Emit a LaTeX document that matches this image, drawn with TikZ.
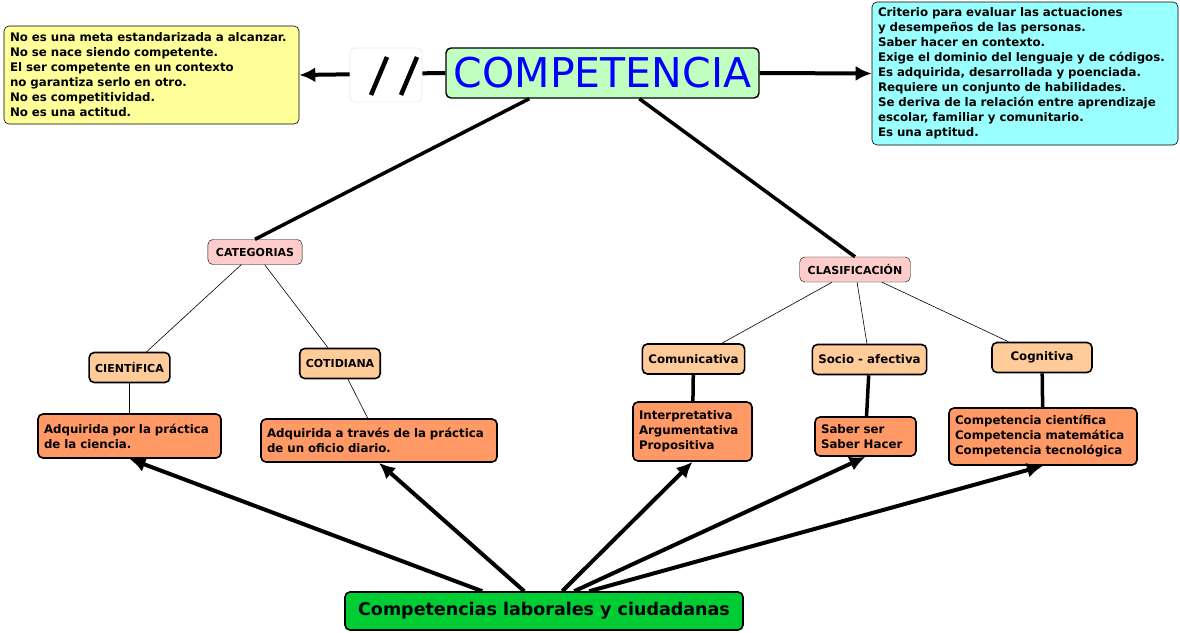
\documentclass[tikz,border=0pt]{standalone}
\usepackage{fontspec}
\setmainfont{DejaVu Sans}
\usetikzlibrary{arrows.meta}
\definecolor{notesyellow}{HTML}{FFFF99}
\definecolor{traitscyan}{HTML}{99FFFF}
\definecolor{compgreen}{HTML}{C0FFC0}
\definecolor{catpink}{HTML}{FFCCCC}
\definecolor{kindpeach}{HTML}{FFCC99}
\definecolor{detailorange}{HTML}{FF9966}
\definecolor{laborgreen}{HTML}{00CC33}
\begin{document}
\begin{tikzpicture}[x=1pt, y=-1pt,
    box/.style={draw, rounded corners=5pt, font=\bfseries\fontsize{11.8}{15}\selectfont, align=left, inner xsep=6pt, inner ysep=4pt},
    cat/.style={draw, rounded corners=5pt, fill=catpink, font=\bfseries\fontsize{11}{13}\selectfont, minimum height=25pt, inner xsep=8pt},
    kind/.style={box, fill=kindpeach, line width=1.6pt, minimum height=30pt, align=center},
    detail/.style={box, fill=detailorange, line width=1.6pt},
    thin/.style={draw, line width=0.6pt},
    heavy/.style={draw, line width=3.5pt},
    arr/.style={-{Latex[length=16pt,width=15pt]}, line width=4pt}]
    \useasboundingbox (0,0) rectangle (1180,632);
    % Top row
    \node[box, fill=notesyellow, line width=0.6pt, text width=283pt, minimum height=98pt] (notes) at (151.5,75) {No es una meta estandarizada a alcanzar.\\No se nace siendo competente.\\El ser competente en un contexto\\no garantiza serlo en otro.\\No es competitividad.\\No es una actitud.};
    \node[draw, rounded corners=5pt, line width=1.4pt, fill=compgreen, minimum width=313pt, minimum height=50pt, text=blue, font=\fontsize{41}{44}\selectfont, inner sep=0pt] (comp) at (602.5,73) {COMPETENCIA};
    \node[box, fill=traitscyan, line width=0.6pt, text width=294pt, minimum height=143pt] (traits) at (1025,73.5) {Criterio para evaluar las actuaciones\\y desempeños de las personas.\\Saber hacer en contexto.\\Exige el dominio del lenguaje y de códigos.\\Es adquirida, desarrollada y poenciada.\\Requiere un conjunto de habilidades.\\Se deriva de la relación entre aprendizaje\\escolar, familiar y comunitario.\\Es una aptitud.};
    \draw[arr] (comp.west) -- (notes.east);
    \draw[arr] (comp.east) -- (traits.west);
    \node[draw=gray!15, rounded corners=5pt, thick, fill=white, minimum width=72pt, minimum height=54pt, inner sep=0pt] (neg) at (386,75) {};
    \draw[line width=4.5pt] (neg.center) ++(-15,20) -- ++(16,-38) ++(14,38) -- ++(16,-38);

    % Middle level
    \node[cat] (categ) at (255,252) {CATEGORIAS};
    \node[cat] (clasif) at (855,269.5) {CLASIFICACIÓN};
    \draw[heavy] (comp.south west) ++(84,0) -- (categ.north);
    \draw[heavy] (comp.south west) ++(194,0) -- (clasif.north);

    \node[kind, font=\bfseries\fontsize{11}{13}\selectfont] (cient) at (129.5,367.5) {CIENTÍFICA};
    \node[kind, font=\bfseries\fontsize{11}{13}\selectfont] (cotid) at (340,363.5) {COTIDIANA};
    \node[kind] (comun) at (693.5,359) {Comunicativa};
    \node[kind] (socio) at (869.5,359.5) {Socio - afectiva};
    \node[kind, minimum width=100pt] (cogni) at (1042,357.5) {Cognitiva};
    \draw[thin] (categ) -- (cient);
    \draw[thin] (categ) -- (cotid);
    \draw[thin] (clasif) -- (comun);
    \draw[thin] (clasif) -- (socio);
    \draw[thin] (clasif) -- (cogni);

    % Lower level
    \node[detail, text width=171pt, minimum height=44pt] (adqc) at (129.5,436) {Adquirida por la práctica\\de la ciencia.};
    \node[detail, text width=224pt, minimum height=43pt] (adqo) at (379,440.5) {Adquirida a través de la práctica\\de un oficio diario.};
    \node[detail, text width=107pt, minimum height=59pt] (argum) at (692.5,431.5) {Interpretativa\\Argumentativa\\Propositiva};
    \node[detail, text width=89pt, minimum height=39pt] (saber) at (865.5,436.5) {Saber ser\\Saber Hacer};
    \node[detail, text width=176pt, minimum height=57pt] (areas) at (1043,436.5) {Competencia científica\\Competencia matemática\\Competencia tecnológica};
    \draw[thin] (cient) -- (adqc);
    \draw[thin] (cotid) -- (adqo);
    \draw[heavy] (comun) -- (argum);
    \draw[heavy] (socio) -- (saber);
    \draw[heavy] (cogni) -- (areas);

    % Bottom
    \node[draw, rounded corners=5pt, line width=1.6pt, fill=laborgreen, minimum width=398pt, minimum height=38pt, font=\bfseries\fontsize{17.5}{20}\selectfont] (labor) at (544,611) {Competencias laborales y ciudadanas};
    \draw[arr] (labor.north west) ++(138,0) -- (adqc.south);
    \draw[arr] (labor.north west) ++(180,0) -- (adqo.south);
    \draw[arr] (labor.north west) ++(218,0) -- (argum.south);
    \draw[arr] (labor.north west) ++(230,0) -- (saber.south);
    \draw[arr] (labor.north west) ++(245,0) -- (areas.south);
\end{tikzpicture}
\end{document}
